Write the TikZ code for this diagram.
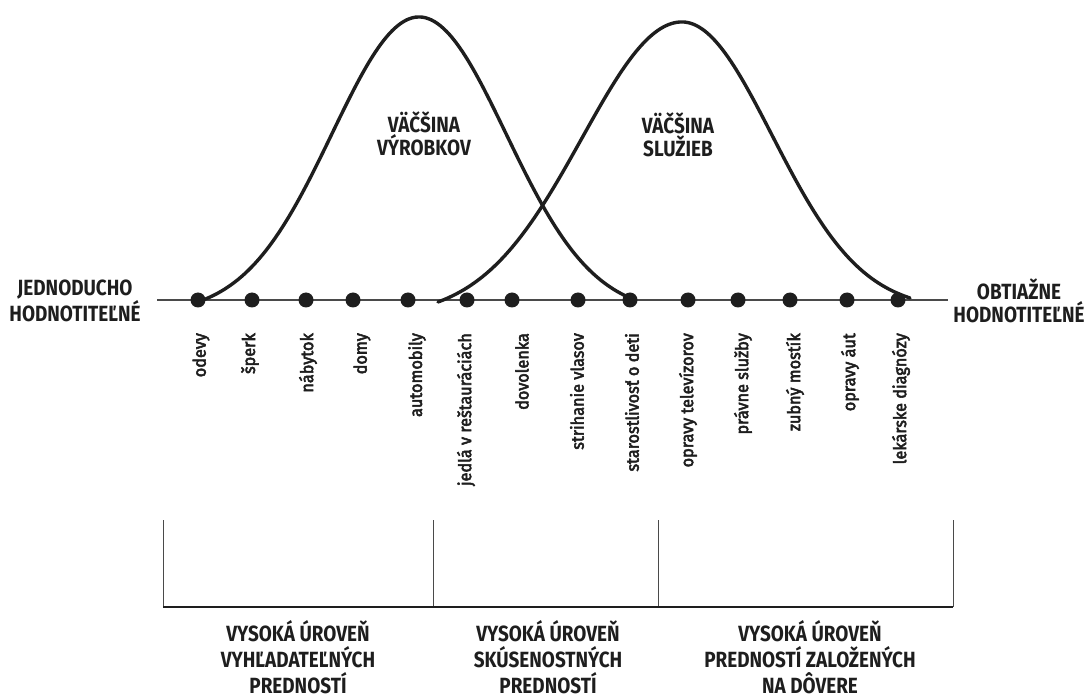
\documentclass[tikz,border=0pt]{standalone}
\usepackage{fontspec}
\setmainfont{Fira Sans}
\newfontfamily\capsfont{Fira Sans}[FakeStretch=0.86]
\newfontfamily\lblfont{Fira Sans}[FakeStretch=0.93,FakeBold=3]
\definecolor{ink}{HTML}{1E1E1E}
\definecolor{axisgray}{HTML}{4A4A4A}
\begin{document}
\begin{tikzpicture}[x=1pt,y=-1pt,
  curve/.style={draw=ink,line width=3.4pt,line cap=round},
  axisline/.style={draw=axisgray,line width=2pt},
  dotnode/.style={circle,fill=ink,inner sep=0pt,minimum size=15pt},
  lbl/.style={text=ink,inner sep=0pt,anchor=east,rotate=90,font=\lblfont\fontsize{17.5}{20}\selectfont},
  caps/.style={text=ink,inner sep=0pt,align=center,font=\capsfont\bfseries\fontsize{22}{23.5}\selectfont},
  bottomcaps/.style={text=ink,inner sep=0pt,align=center,font=\capsfont\bfseries\fontsize{22}{26}\selectfont},
  thin/.style={draw=axisgray,line width=1pt},
  base/.style={draw=ink,line width=2.6pt}
]
\useasboundingbox (0,0) rectangle (1087,700);

% axis
\coordinate (axL) at (157,300);
\coordinate (axR) at (948,300);
\draw[axisline] (axL) -- (axR);

% curves
\draw[curve] plot[domain=198:630,samples=140,smooth] (\x,{300-(296.6*exp(-0.5*((\x-419)/87)^2)-13.6)});
\draw[curve] plot[domain=438:682,samples=90,smooth] (\x,{300-(295*exp(-0.5*((\x-682)/100)^2)-17)})
  -- plot[domain=682:910,samples=90,smooth] (\x,{300-(287.6*exp(-0.5*((\x-682)/90)^2)-9.6)});

% dots
\foreach \n/\px in {1/198,2/252,3/306,4/353,5/408,6/467,7/512,8/578,9/630,10/688,11/738,12/790,13/847,14/898}{
  \node[dotnode] (d\n) at (\px,300) {};
}

% rotated labels
\node[lbl] (l1) at (201,333) {odevy};
\node[lbl] (l2) at (250,333) {šperk};
\node[lbl] (l3) at (308,333) {nábytok};
\node[lbl] (l4) at (362,333) {domy};
\node[lbl] (l5) at (417,333) {automobily};
\node[lbl] (l6) at (466,333) {jedlá v reštauráciách};
\node[lbl] (l7) at (522,333) {dovolenka};
\node[lbl] (l8) at (577,333) {strihanie vlasov};
\node[lbl] (l9) at (632,333) {starostlivosť o deti};
\node[lbl] (l10) at (688,333) {opravy televízorov};
\node[lbl] (l11) at (743,333) {právne služby};
\node[lbl] (l12) at (795,333) {zubný mostík};
\node[lbl] (l13) at (850,333) {opravy áut};
\node[lbl] (l14) at (901,333) {lekárske diagnózy};

% side labels
\node[caps] (left) at (75,301) {JEDNODUCHO\\HODNOTITEĽNÉ};
\node[caps] (right) at (1019,301) {OBTIAŽNE\\HODNOTITEĽNÉ};

% curve labels
\node[caps] (prod) at (424,134) {VÄČŠINA\\VÝROBKOV};
\node[caps] (serv) at (678,135) {VÄČŠINA\\SLUŽIEB};

% bracket
\coordinate (b1t) at (163,520); \coordinate (b1b) at (163,607);
\coordinate (b2t) at (433,520); \coordinate (b2b) at (433,607);
\coordinate (b3t) at (658,520); \coordinate (b3b) at (658,607);
\coordinate (b4t) at (953,520); \coordinate (b4b) at (953,607);
\draw[thin] (b1t) -- (b1b);
\draw[thin] (b2t) -- (b2b);
\draw[thin] (b3t) -- (b3b);
\draw[thin] (b4t) -- (b4b);
\draw[base] (b1b) -- (b4b);

% bottom labels
\node[bottomcaps] (s1) at (298,657) {VYSOKÁ ÚROVEŇ\\VYHĽADATEĽNÝCH\\PREDNOSTÍ};
\node[bottomcaps] (s2) at (548,657) {VYSOKÁ ÚROVEŇ\\SKÚSENOSTNÝCH\\PREDNOSTÍ};
\node[bottomcaps] (s3) at (810,657) {VYSOKÁ ÚROVEŇ\\PREDNOSTÍ ZALOŽENÝCH\\NA DÔVERE};
\end{tikzpicture}
\end{document}
